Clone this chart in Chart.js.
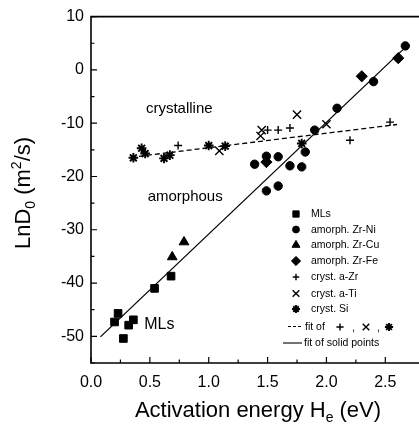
<!DOCTYPE html>
<html>
<head>
<meta charset="utf-8">
<script src="https://cdn.jsdelivr.net/npm/chart.js@4.4.1/dist/chart.umd.min.js"></script>
<style>
  html, body { margin: 0; padding: 0; background: #fff; }
</style>
</head>
<body>
<canvas id="myChart" width="419" height="428"></canvas>
<script>
// activation energy H_e (eV) against ln D0 (m^2/s)
const mls = [[0.20,-47.3],[0.23,-45.7],[0.275,-50.4],[0.32,-47.9],[0.36,-46.9],[0.54,-41.0],[0.68,-38.7]];
const zrNi = [[1.39,-17.7],[1.49,-16.2],[1.59,-16.3],[1.69,-18.0],[1.79,-18.2],[1.82,-15.4],[1.90,-11.3],
  [2.09,-7.2],[2.40,-2.2],[2.67,4.5],[1.49,-22.7],[1.59,-21.8]];
const zrCu = [[0.69,-35.1],[0.79,-32.3]];
const zrFe = [[1.49,-17.3],[2.30,-1.2],[2.61,2.2]];
const aZr = [[0.74,-14.2],[1.50,-11.3],[1.59,-11.3],[1.69,-10.9],[2.20,-13.2],[2.54,-9.8]];
const aTi = [[1.09,-15.2],[1.45,-11.3],[1.44,-12.4],[1.75,-8.4],[2.00,-10.2]];
const si = [[0.36,-16.5],[0.43,-14.7],[0.46,-15.7],[0.62,-16.6],[0.67,-16.0],[1.00,-14.2],[1.14,-14.3],[1.79,-13.8]];
const fitCryst = [[0.34,-16.4],[2.60,-10.25]];
const fitSolid = [[0.08,-50.1],[2.65,3.8]];

const xTicks = [0, 0.5, 1.0, 1.5, 2.0, 2.5];
const yTicks = [10, 0, -10, -20, -30, -40, -50];

const pts = (arr) => arr.map(p => ({ x: p[0], y: p[1] }));

const styles = {
  mls:  { pointStyle: 'rect', radius: 5.4, borderWidth: 1 },
  zrNi: { pointStyle: 'circle', radius: 4.2, borderWidth: 1 },
  zrCu: { pointStyle: 'triangle', radius: 5.6, borderWidth: 1 },
  zrFe: { pointStyle: 'rectRot', radius: 5.6, borderWidth: 1 },
  aZr:  { pointStyle: 'cross', radius: 4, borderWidth: 1.4 },
  aTi:  { pointStyle: 'crossRot', radius: 5.8, borderWidth: 1.4 },
  si:   { pointStyle: 'star', radius: 4.8, borderWidth: 1.9 }
};

function scatterSet(label, data, st) {
  return {
    type: 'scatter', label, data: pts(data),
    pointStyle: st.pointStyle, pointRadius: st.radius, pointBorderWidth: st.borderWidth,
    backgroundColor: '#000', borderColor: '#000', pointHoverRadius: st.radius
  };
}

function lineSet(label, data, dash) {
  return {
    type: 'line', label, data: pts(data), showLine: true,
    borderColor: '#000', borderWidth: 1.3, borderDash: dash, pointRadius: 0, fill: false
  };
}

const legendRows = [
  ['MLs', styles.mls], ['amorph. Zr-Ni', styles.zrNi], ['amorph. Zr-Cu', styles.zrCu],
  ['amorph. Zr-Fe', styles.zrFe], ['cryst. a-Zr', styles.aZr], ['cryst. a-Ti', styles.aTi],
  ['cryst. Si', styles.si]
];

function mark(ctx, st, x, y, scale) {
  ctx.save();
  ctx.fillStyle = '#000';
  ctx.strokeStyle = '#000';
  ctx.lineWidth = st.borderWidth;
  Chart.helpers.drawPoint(ctx, { pointStyle: st.pointStyle, radius: st.radius * (scale || 1), rotation: 0, borderWidth: st.borderWidth }, x, y);
  ctx.restore();
}

const decorations = {
  id: 'decorations',
  afterDraw(chart) {
    const ctx = chart.ctx;
    const a = chart.chartArea;
    const xs = chart.scales.x, ys = chart.scales.y;
    ctx.save();
    // frame: left, bottom and top
    ctx.strokeStyle = '#000';
    ctx.lineWidth = 1.6;
    ctx.beginPath();
    ctx.moveTo(chart.width, a.top);
    ctx.lineTo(a.left, a.top);
    ctx.lineTo(a.left, a.bottom);
    ctx.lineTo(chart.width, a.bottom);
    ctx.stroke();

    // inward ticks
    ctx.lineWidth = 1.2;
    ctx.beginPath();
    for (let v = 0; v <= xs.max + 1e-9; v += 0.25) {
      const px = xs.getPixelForValue(v);
      const len = Math.abs(v * 2 - Math.round(v * 2)) < 1e-6 ? 6 : 3.5;
      ctx.moveTo(px, a.bottom);
      ctx.lineTo(px, a.bottom - len);
    }
    for (let v = ys.min; v <= ys.max + 1e-9; v += 5) {
      const py = ys.getPixelForValue(v);
      const len = v % 10 === 0 ? 6 : 3.5;
      ctx.moveTo(a.left, py);
      ctx.lineTo(a.left + len, py);
    }
    ctx.stroke();

    // region labels
    ctx.fillStyle = '#000';
    ctx.textAlign = 'center';
    ctx.textBaseline = 'middle';
    ctx.font = '15px "Liberation Sans", Arial, sans-serif';
    ctx.fillText('crystalline', xs.getPixelForValue(0.75), ys.getPixelForValue(-7.3));
    ctx.fillText('amorphous', xs.getPixelForValue(0.80), ys.getPixelForValue(-23.9));
    ctx.font = '16px "Liberation Sans", Arial, sans-serif';
    ctx.fillText('MLs', xs.getPixelForValue(0.58), ys.getPixelForValue(-47.8));

    // legend
    ctx.textAlign = 'left';
    ctx.font = '10.5px "Liberation Sans", Arial, sans-serif';
    const rowY = [214, 229.5, 245, 261, 277, 293.5, 309];
    legendRows.forEach((r, i) => {
      mark(ctx, r[1], 296, rowY[i], 0.82);
      ctx.fillText(r[0], 311, rowY[i] + 0.5);
    });
    ctx.lineWidth = 1.1;
    ctx.setLineDash([3, 2]);
    ctx.beginPath();
    ctx.moveTo(288, 326.5); ctx.lineTo(303, 326.5);
    ctx.stroke();
    ctx.setLineDash([]);
    ctx.fillText('fit of', 305, 327);
    mark(ctx, styles.aZr, 340, 327, 0.9);
    ctx.fillText(',', 352, 328);
    mark(ctx, styles.aTi, 366, 327, 0.8);
    ctx.fillText(',', 377, 328);
    mark(ctx, styles.si, 389, 327, 0.85);
    ctx.beginPath();
    ctx.moveTo(283, 343); ctx.lineTo(302, 343);
    ctx.stroke();
    ctx.fillText('fit of solid points', 304, 343);

    // axis titles with sub/superscripts
    ctx.textBaseline = 'alphabetic';
    const sub = '14px "Liberation Sans", Arial, sans-serif';
    const big = '22px "Liberation Sans", Arial, sans-serif';
    const xParts = [['Activation energy H', big, 0], ['e', sub, 5], [' (eV)', big, 0]];
    drawParts(ctx, xParts, (a.left + chart.width) / 2 + 3, 417);

    ctx.translate(30, 193);
    ctx.rotate(-Math.PI / 2);
    const yParts = [['LnD', big, 0], ['0', sub, 5], [' (m', big, 0], ['2', sub, -9], ['/s)', big, 0]];
    drawParts(ctx, yParts, 0, 0);
    ctx.restore();
  }
};

function drawParts(ctx, parts, cx, y) {
  let w = 0;
  parts.forEach(p => { ctx.font = p[1]; w += ctx.measureText(p[0]).width; });
  let x = cx - w / 2;
  ctx.textAlign = 'left';
  parts.forEach(p => {
    ctx.font = p[1];
    ctx.fillText(p[0], x, y + p[2]);
    x += ctx.measureText(p[0]).width;
  });
}

const ctx = document.getElementById('myChart').getContext('2d');
const myChart = new Chart(ctx, {
  data: {
    datasets: [
      lineSet('fit of +, x, *', fitCryst, [5, 3]),
      lineSet('fit of solid points', fitSolid, []),
      scatterSet('MLs', mls, styles.mls),
      scatterSet('amorph. Zr-Ni', zrNi, styles.zrNi),
      scatterSet('amorph. Zr-Cu', zrCu, styles.zrCu),
      scatterSet('amorph. Zr-Fe', zrFe, styles.zrFe),
      scatterSet('cryst. a-Zr', aZr, styles.aZr),
      scatterSet('cryst. a-Ti', aTi, styles.aTi),
      scatterSet('cryst. Si', si, styles.si)
    ]
  },
  options: {
    responsive: false,
    animation: false,
    layout: { padding: { top: 15, right: 1, left: 0, bottom: 0 } },
    plugins: { legend: { display: false }, tooltip: { enabled: false } },
    scales: {
      x: {
        type: 'linear', min: 0, max: 2.725,
        afterBuildTicks: (s) => { s.ticks = xTicks.map(v => ({ value: v })); },
        afterFit: (s) => { s.height = 65; },
        grid: { display: false, drawTicks: false },
        border: { display: false },
        ticks: {
          color: '#000', padding: 10, maxRotation: 0, autoSkip: false,
          font: { size: 16, family: '"Liberation Sans", Arial, sans-serif' },
          callback: (v) => Number(v).toFixed(1)
        }
      },
      y: {
        type: 'linear', min: -55, max: 10,
        afterBuildTicks: (s) => { s.ticks = yTicks.map(v => ({ value: v })); },
        afterFit: (s) => { s.width = 91; },
        grid: { display: false, drawTicks: false },
        border: { display: false },
        ticks: {
          color: '#000', padding: 7, autoSkip: false,
          font: { size: 16, family: '"Liberation Sans", Arial, sans-serif' },
          callback: (v) => String(v)
        }
      }
    }
  },
  plugins: [decorations]
});
</script>
</body>
</html>
